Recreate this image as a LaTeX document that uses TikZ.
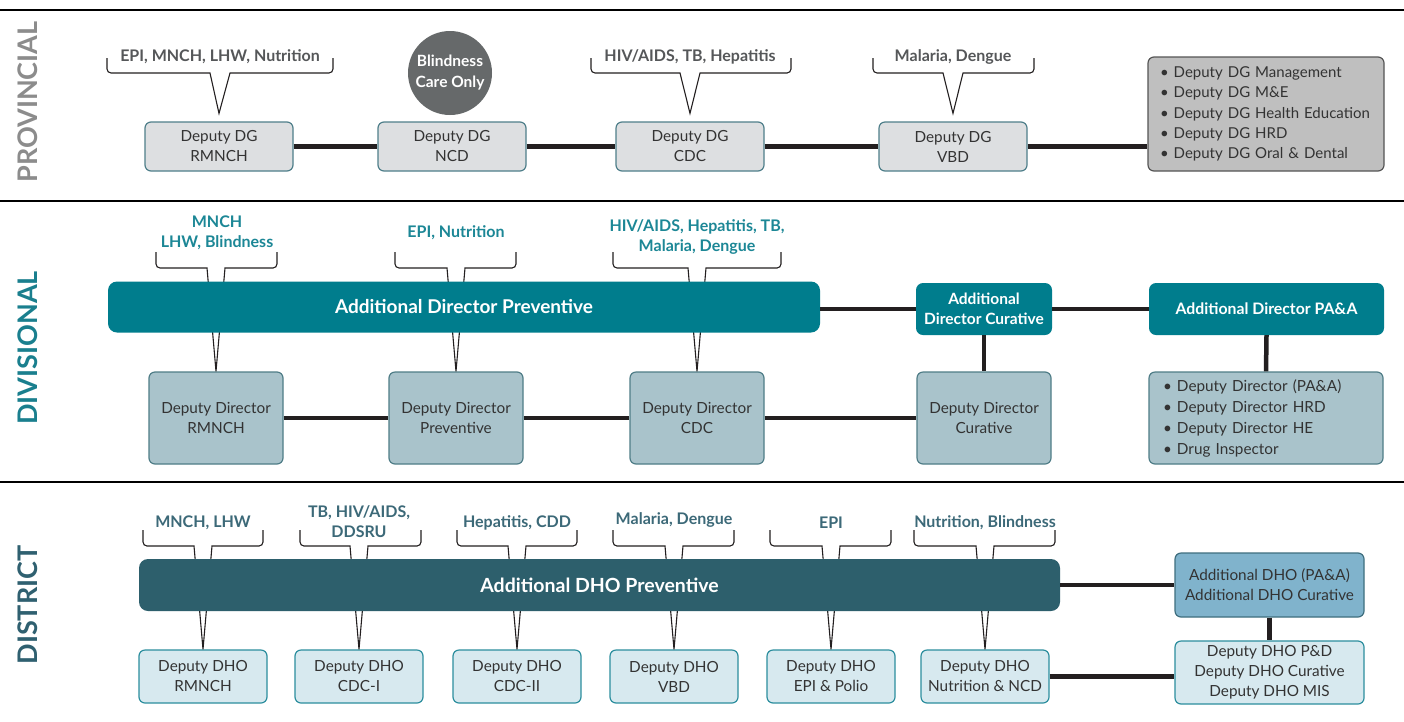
\documentclass[tikz,border=0pt]{standalone}
\usepackage{fontspec}
\setmainfont{Lato}
\usetikzlibrary{calc}
\definecolor{provgray}{HTML}{8C8C8C}
\definecolor{divteal}{HTML}{1A7F8E}
\definecolor{distteal}{HTML}{2F6070}
\definecolor{pfill}{HTML}{DDDFE1}
\definecolor{pborder}{HTML}{4F7F8A}
\definecolor{circ}{HTML}{66696A}
\definecolor{gfill}{HTML}{BFBFBF}
\definecolor{gborder}{HTML}{555555}
\definecolor{barone}{HTML}{007D8D}
\definecolor{lblone}{HTML}{1C8796}
\definecolor{dfill}{HTML}{A9C3CB}
\definecolor{dborder}{HTML}{4F7D87}
\definecolor{bartwo}{HTML}{2D5F6C}
\definecolor{lbltwo}{HTML}{3C6978}
\definecolor{hfill}{HTML}{D7E9EF}
\definecolor{hborder}{HTML}{2C8E9E}
\definecolor{afill}{HTML}{80B3CC}
\definecolor{aborder}{HTML}{3E6E7E}
\definecolor{conn}{HTML}{231F20}
\definecolor{plbl}{HTML}{555759}
\definecolor{txt}{HTML}{333333}
\newcommand\spoutbrace[7]{%
  \draw[brk] (#1,#3) -- (#1,#4-4) arc[start angle=180,end angle=270,radius=4pt]
    -- (#5,#4) -- #7 -- (#6,#4) -- (#2-4,#4)
    arc[start angle=270,end angle=360,radius=4pt] -- (#2,#3);}
\begin{document}
\begin{tikzpicture}[x=1pt,y=-1pt,
  box/.style={draw, rounded corners=6pt, line width=1.2pt, align=center, inner sep=0pt, text=txt, font=\fontsize{15.3}{20}\selectfont},
  pbox/.style={box, fill=pfill, draw=pborder, minimum width=148pt, minimum height=49pt},
  gbox/.style={box, fill=gfill, draw=gborder, align=left, inner xsep=12pt, text width=212pt, minimum height=114pt, font=\fontsize{15}{20.3}\selectfont},
  dbox/.style={box, fill=dfill, draw=dborder, minimum width=134pt, minimum height=92pt},
  hbox/.style={box, fill=hfill, draw=hborder, minimum width=128pt, minimum height=53pt},
  barA/.style={draw=none, fill=barone, rounded corners=9pt, text=white, inner sep=0pt, align=center},
  barB/.style={draw=none, fill=bartwo, rounded corners=9pt, text=white, inner sep=0pt, align=center},
  conline/.style={draw=conn, line width=4.5pt},
  brk/.style={draw=conn, line width=1.1pt, line join=miter},
  plab/.style={text=plbl, font=\fontsize{16}{20}\selectfont\bfseries, align=center},
  dlab/.style={text=lblone, font=\fontsize{16}{20}\selectfont\bfseries, align=center},
  tlab/.style={text=lbltwo, font=\fontsize{16}{20}\selectfont\bfseries, align=center},
  sect/.style={font=\fontsize{27}{27}\selectfont\bfseries, rotate=90},
  sepline/.style={draw=black, line width=2pt}
]
\useasboundingbox (0,0) rectangle (1404,721);
\fill[white] (0,0) rectangle (1404,721);

% separators
\coordinate (s1l) at (0,10); \coordinate (s1r) at (1404,10);
\coordinate (s2l) at (0,201); \coordinate (s2r) at (1404,201);
\coordinate (s3l) at (0,482); \coordinate (s3r) at (1404,482);
\draw[sepline] (s1l) -- (s1r);
\draw[sepline, line width=2.6pt] (s2l) -- (s2r);
\draw[sepline] (s3l) -- (s3r);

% section titles
\node[sect, text=provgray] (tprov) at (28,102) {PROVINCIAL};
\node[sect, text=divteal] (tdiv) at (28,348) {DIVISIONAL};
\node[sect, text=distteal] (tdist) at (28,605) {DISTRICT};

% ---------------- Provincial ----------------
\node[pbox] (p1) at (219,146.5) {Deputy DG\\RMNCH};
\node[pbox] (p2) at (452,146.5) {Deputy DG\\NCD};
\node[pbox] (p3) at (690,146.5) {Deputy DG\\CDC};
\node[pbox] (p4) at (953,146.5) {Deputy DG\\VBD};
\node[gbox] (pg) at (1266,114) {\textbullet{} Deputy DG Management\\\textbullet{} Deputy DG M\&E\\\textbullet{} Deputy DG Health Education\\\textbullet{} Deputy DG HRD\\\textbullet{} Deputy DG Oral \& Dental};
\node[circle, fill=circ, minimum size=84pt, inner sep=0pt, text=white, align=center, font=\fontsize{15.5}{21}\selectfont\bfseries] (bc) at (450,73) {Blindness\\Care Only};

\draw[conline] (p1.east) -- (p2.west);
\draw[conline] (p2.east) -- (p3.west);
\draw[conline] (p3.east) -- (p4.west);
\draw[conline] (p4.east) -- (p4.east -| pg.west);

\node[plab] (lp1) at (220,57) {EPI, MNCH, LHW, Nutrition};
\node[plab] (lp3) at (690,57) {HIV/AIDS, TB, Hepatitis};
\node[plab] (lp4) at (953,57) {Malaria, Dengue};
\spoutbrace{107}{333}{58}{73}{210}{230}{([yshift=8pt]p1.north)}
\spoutbrace{591}{791}{58}{73}{680}{700}{([yshift=8pt]p3.north)}
\spoutbrace{873}{1034}{58}{73}{943}{963}{([yshift=8pt]p4.north)}

% ---------------- Divisional ----------------
\node[dbox] (d1) at (216,418) {Deputy Director\\RMNCH};
\node[dbox] (d2) at (456,418) {Deputy Director\\Preventive};
\node[dbox] (d3) at (697,418) {Deputy Director\\CDC};
\node[dbox] (d4) at (984,418) {Deputy Director\\Curative};
\node[dbox, align=left, inner xsep=14pt, text width=206pt, font=\fontsize{15.3}{21}\selectfont] (dl) at (1266,418) {\textbullet{} Deputy Director (PA\&A)\\\textbullet{} Deputy Director HRD\\\textbullet{} Deputy Director HE\\\textbullet{} Drug Inspector};

\node[dlab] (ld1) at (217,233) {MNCH\\LHW, Blindness};
\node[dlab] (ld2) at (456,233) {EPI, Nutrition};
\node[dlab] (ld3) at (697,237) {HIV/AIDS, Hepatitis, TB,\\Malaria, Dengue};
\spoutbrace{156}{277}{252}{268}{207}{225}{(d1.north)}
\spoutbrace{395}{516}{252}{268}{447}{465}{(d2.north)}
\spoutbrace{613}{781}{252}{268}{688}{706}{(d3.north)}

\node[barA, minimum width=712pt, minimum height=51pt, font=\fontsize{19}{22}\selectfont\bfseries] (ab) at (464,307) {Additional Director Preventive};
\node[barA, rounded corners=7pt, minimum width=136pt, minimum height=52pt, font=\fontsize{15.5}{20}\selectfont\bfseries] (ac) at (984,309) {Additional\\Director Curative};
\node[barA, rounded corners=7pt, minimum width=235pt, minimum height=52pt, font=\fontsize{15.8}{20}\selectfont\bfseries] (pa) at (1266.5,309) {Additional Director PA\&A};

\draw[conline] (ac.west -| ab.east) -- (ac.west);
\draw[conline] (ac.east) -- (pa.west);
\draw[conline] (ac.south) -- (d4.north);
\draw[conline] (pa.south) -- (dl.north);
\draw[conline] (d1.east) -- (d2.west);
\draw[conline] (d2.east) -- (d3.west);
\draw[conline] (d3.east) -- (d4.west);

% ---------------- District ----------------
\node[hbox] (h1) at (203,676.5) {Deputy DHO\\RMNCH};
\node[hbox] (h2) at (359,676.5) {Deputy DHO\\CDC-I};
\node[hbox] (h3) at (517,676.5) {Deputy DHO\\CDC-II};
\node[hbox] (h4) at (674,676.5) {Deputy DHO\\VBD};
\node[hbox] (h5) at (831,676.5) {Deputy DHO\\EPI \& Polio};
\node[hbox] (h6) at (985,676.5) {Deputy DHO\\Nutrition \& NCD};

\node[tlab] (lt1) at (203,523) {MNCH, LHW};
\node[tlab] (lt2) at (359,522) {TB, HIV/AIDS,\\DDSRU};
\node[tlab] (lt3) at (517,523) {Hepatitis, CDD};
\node[tlab] (lt4) at (674,520) {Malaria, Dengue};
\node[tlab] (lt5) at (831,523) {EPI};
\node[tlab] (lt6) at (985,523) {Nutrition, Blindness};
\spoutbrace{143}{263}{530}{546}{194}{212}{(h1.north)}
\spoutbrace{300}{421}{530}{546}{350}{368}{(h2.north)}
\spoutbrace{457}{577}{530}{546}{508}{526}{(h3.north)}
\spoutbrace{613}{734}{530}{546}{665}{683}{(h4.north)}
\spoutbrace{770}{891}{530}{546}{822}{840}{(h5.north)}
\spoutbrace{914}{1055}{530}{546}{976}{994}{(h6.north)}

\node[barB, minimum width=921pt, minimum height=52pt, font=\fontsize{19.5}{22}\selectfont\bfseries] (db) at (599.5,585) {Additional DHO Preventive};
\node[box, fill=afill, draw=aborder, minimum width=189pt, minimum height=64pt] (ad) at (1269.5,585) {Additional DHO (PA\&A)\\Additional DHO Curative};
\node[box, fill=hfill, draw=hborder, minimum width=189pt, minimum height=63pt] (pd) at (1269.5,672.5) {Deputy DHO P\&D\\Deputy DHO Curative\\Deputy DHO MIS};

\draw[conline] (db.east) -- (ad.west);
\draw[conline] (ad.south) -- (pd.north);
\draw[conline] (h6.east) -- (h6.east -| pd.west);
\end{tikzpicture}
\end{document}
